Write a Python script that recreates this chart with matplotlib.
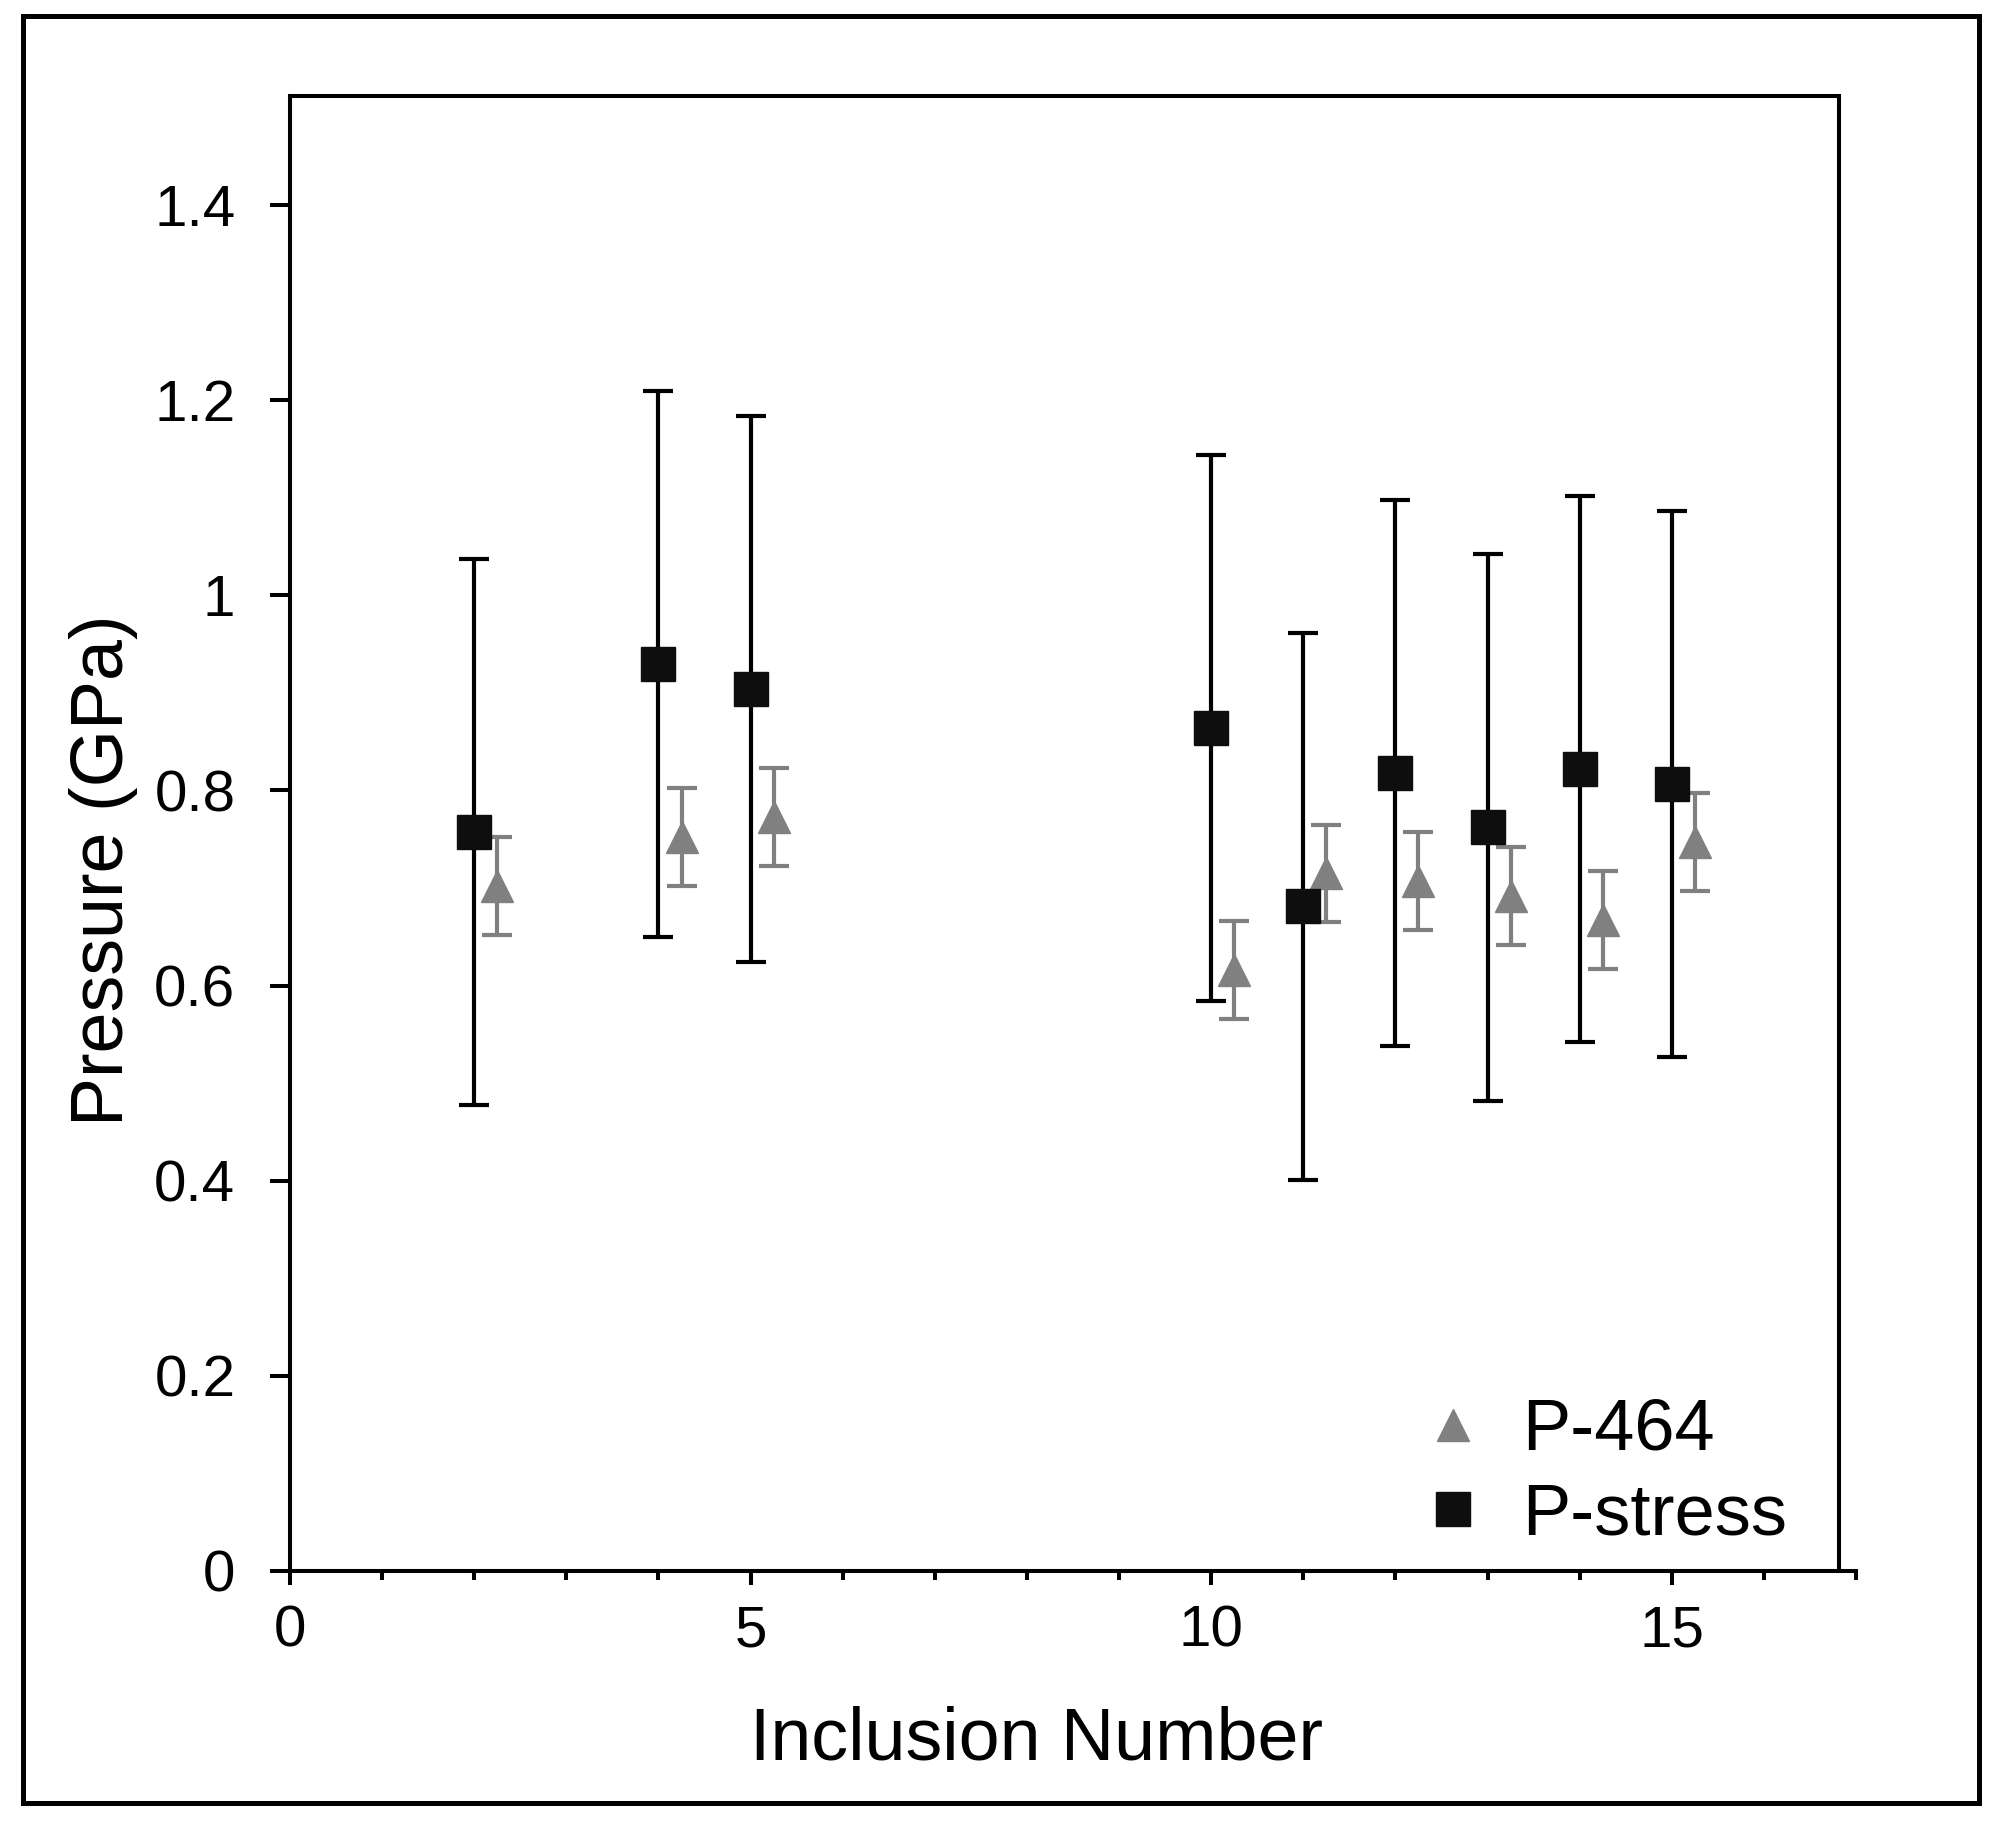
import matplotlib
matplotlib.use("Agg")
import matplotlib.pyplot as plt
from matplotlib.lines import Line2D
from matplotlib.patches import Rectangle
from matplotlib.ticker import MultipleLocator, FixedLocator

plt.rcParams['font.family'] = ['Liberation Sans', 'DejaVu Sans']

# ---- data ----
stress_x = [2, 4, 5, 10, 11, 12, 13, 14, 15]
stress_y = [0.757, 0.930, 0.904, 0.864, 0.681, 0.818, 0.762, 0.822, 0.807]
stress_err = [0.28, 0.28, 0.28, 0.28, 0.28, 0.28, 0.28, 0.28, 0.28]

p464_x = [2.25, 4.25, 5.25, 10.25, 11.25, 12.25, 13.25, 14.25, 15.25]
p464_y = [0.702, 0.752, 0.773, 0.616, 0.715, 0.707, 0.692, 0.667, 0.747]
p464_err = [0.05, 0.05, 0.05, 0.05, 0.05, 0.05, 0.05, 0.05, 0.05]

y_ticks = [0, 0.2, 0.4, 0.6, 0.8, 1.0, 1.2, 1.4]
y_tick_labels = ["0", "0.2", "0.4", "0.6", "0.8", "1", "1.2", "1.4"]
x_ticks = [0, 5, 10, 15]
x_tick_labels = ["0", "5", "10", "15"]

W, H = 1993, 1830
fig = plt.figure(figsize=(W / 100, H / 100), dpi=100)
ax = fig.add_axes([290 / W, (H - 1570.7) / H, (1856 - 290) / W, (1570.7 - 96) / H])

gray = '#808080'
black = '#0e0e0e'

ax.errorbar(p464_x, p464_y, yerr=p464_err, fmt='^', color=gray, ms=23,
            mec=gray, mfc=gray, ecolor=gray, elinewidth=3.0, capsize=10.5,
            capthick=3.0, zorder=3)
ax.errorbar(stress_x, stress_y, yerr=stress_err, fmt='s', color=black, ms=24,
            mec=black, mfc=black, ecolor='black', elinewidth=3.0, capsize=10.5,
            capthick=3.0, zorder=4)

ax.set_xlim(0, 17)
ax.set_ylim(0, 1.512)

ax.yaxis.set_major_locator(FixedLocator(y_ticks))
ax.set_yticklabels(y_tick_labels)
ax.xaxis.set_major_locator(FixedLocator(x_ticks))
ax.set_xticklabels(x_tick_labels)
ax.xaxis.set_minor_locator(MultipleLocator(1))

for s in ['top', 'right']:
    ax.spines[s].set_visible(False)
for s in ['left', 'bottom']:
    ax.spines[s].set_linewidth(2.9)

ax.tick_params(axis='y', which='major', direction='out', length=14.4, width=2.9,
               labelsize=42, pad=25)
ax.tick_params(axis='x', which='major', direction='out', length=10, width=2.9,
               labelsize=42, pad=14)
ax.tick_params(axis='x', which='minor', direction='out', length=6.7, width=2.9)

# plot-area box (top and right edges)
fig.add_artist(Rectangle((290 / W, (H - 1570.7) / H), (1839 - 290) / W, (1570.7 - 96) / H,
                         transform=fig.transFigure, fill=False, lw=2.9,
                         edgecolor='black', zorder=5))
# outer frame
fig.add_artist(Rectangle((22.5 / W, (H - 1802.5) / H), (1979 - 22.5) / W, (1802.5 - 16) / H,
                         transform=fig.transFigure, fill=False, lw=3.6,
                         edgecolor='black'))

fig.text(1036 / W, (H - 1760) / H, "Inclusion Number", fontsize=53,
         ha='center', va='baseline')
fig.text(104 / W, (H - 870) / H, "Pressure (GPa)", fontsize=53, rotation=90,
         ha='center', va='center')

handles = [Line2D([], [], ls='none', marker='^', ms=23, color=gray),
           Line2D([], [], ls='none', marker='s', ms=24, color=black)]
leg = fig.legend(handles, ["P-464", "P-stress"], loc='upper left',
                 bbox_to_anchor=(1417 / W, (H - 1398) / H), frameon=False,
                 fontsize=52, handlelength=1.0, handletextpad=0.46,
                 labelspacing=0.24, borderpad=0, borderaxespad=0,
                 handleheight=0.7)

fig.savefig("out.png", dpi=100)
